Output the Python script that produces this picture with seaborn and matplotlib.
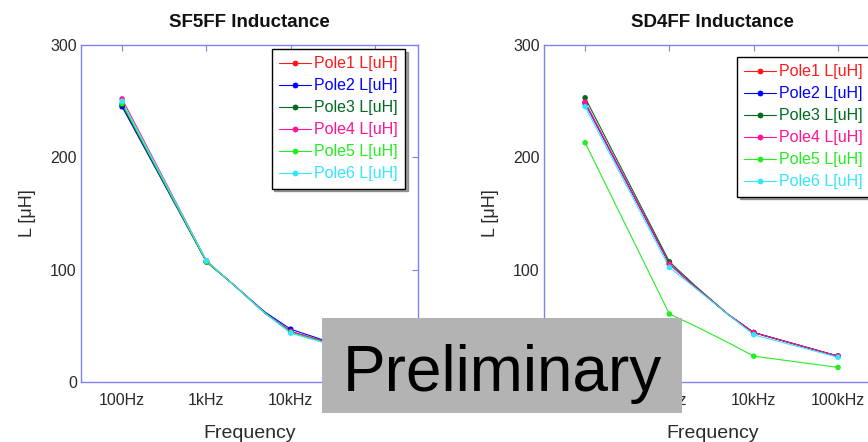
import matplotlib
matplotlib.use("Agg")
import matplotlib.pyplot as plt
from matplotlib.lines import Line2D
from matplotlib.patches import Rectangle
import seaborn as sns
import pandas as pd

# ---- data ----
freq_hz = [100, 1000, 2000, 5000, 10000, 100000]
decades = [100, 1000, 10000, 100000]
tick_labels = ["100Hz", "1kHz", "10kHz", "100kHz"]
poles = ["Pole1 L[uH]", "Pole2 L[uH]", "Pole3 L[uH]", "Pole4 L[uH]", "Pole5 L[uH]", "Pole6 L[uH]"]

sf5ff_p1 = [246, 107, 88, 61, 45, 22]
sf5ff_p2 = [245, 107, 88, 62, 47, 22]
sf5ff_p3 = [247, 107, 88, 61, 45, 22]
sf5ff_p4 = [252, 108, 88, 61, 45, 22]
sf5ff_p5 = [248, 107, 88, 61, 44, 22]
sf5ff_p6 = [250, 108, 88, 61, 43.5, 22]

sd4ff_p1 = [249, 105, 85, 60, 44, 23]
sd4ff_p2 = [248, 105, 85, 60, 44, 23]
sd4ff_p3 = [253, 107, 86, 60, 44, 23]
sd4ff_p4 = [249, 105, 85, 60, 44, 23]
sd4ff_p5 = [213, 60.5, 50, 35, 23, 13]
sd4ff_p6 = [245, 102, 84, 60, 42, 22]

colors = ["#ff1a1a", "#0000ff", "#006b1f", "#ff1493", "#22ee22", "#33e6ff"]

panels = [
    ("SF5FF Inductance", [sf5ff_p1, sf5ff_p2, sf5ff_p3, sf5ff_p4, sf5ff_p5, sf5ff_p6]),
    ("SD4FF Inductance", [sd4ff_p1, sd4ff_p2, sd4ff_p3, sd4ff_p4, sd4ff_p5, sd4ff_p6]),
]

sns.set_style("white")
plt.rcParams["font.family"] = ["Liberation Sans", "DejaVu Sans"]

fig = plt.figure(figsize=(8.68, 4.42), dpi=100)
W, H = 868, 442
spine_col = "#8080f0"
palette = dict(zip(poles, colors))

axes_px = [(81, 45, 337, 337), (544, 45, 337, 337)]
legend_anchor = [("upper right", (0.961, 0.988)), ("upper left", (0.573, 0.964))]

for i, ((title, series), (x0, y0, w, h)) in enumerate(zip(panels, axes_px)):
    ax = fig.add_axes([x0 / W, 1 - (y0 + h) / H, w / W, h / H])
    rows = []
    for pole, vals in zip(poles, series):
        for f, v in zip(freq_hz, vals):
            rows.append({"freq": f, "L": v, "pole": pole})
    df = pd.DataFrame(rows)
    dfm = df[df["freq"].isin(decades)]
    sns.lineplot(data=df, x="freq", y="L", hue="pole", palette=palette,
                 estimator=None, sort=True, linewidth=0.8, legend=False, ax=ax)
    sns.scatterplot(data=dfm, x="freq", y="L", hue="pole", palette=palette,
                    s=16, linewidth=0, legend=False, ax=ax, zorder=3)
    ax.set_xscale("log")
    ax.set_xlim(10 ** 1.512, 10 ** 5.51)
    ax.set_ylim(0, 300)
    ax.set_xticks(decades)
    ax.set_xticklabels(tick_labels)
    ax.minorticks_off()
    ax.set_yticks([0, 100, 200, 300])
    ax.tick_params(direction="in", top=True, right=True, length=4, width=0.8,
                   color=spine_col, labelsize=11.5, labelcolor="#2a2a2a")
    ax.tick_params(axis="x", pad=8)
    ax.tick_params(axis="y", pad=3)
    for s in ax.spines.values():
        s.set_color(spine_col)
        s.set_linewidth(1.0)
    ax.set_title(title, fontsize=13.5, fontweight="bold", pad=13, color="#111111")
    ax.set_xlabel("Frequency", fontsize=14, labelpad=12, color="#2a2a2a")
    ax.set_ylabel("L [\u03bcH]", fontsize=13, labelpad=10, color="#2a2a2a")

    handles = [Line2D([0], [0], color=c, lw=0.8, marker="o", markersize=4.2,
                      markeredgewidth=0) for c in colors]
    loc, anchor = legend_anchor[i]
    leg = ax.legend(handles, poles, loc=loc, bbox_to_anchor=anchor, borderaxespad=0,
                    fontsize=11.5, frameon=True, fancybox=False, shadow=True,
                    edgecolor="black", handlelength=2.0, handletextpad=0.2,
                    labelspacing=0.44, borderpad=0.45)
    leg.get_frame().set_linewidth(1.0)
    for t, c in zip(leg.get_texts(), colors):
        t.set_color(c)

fig.patches.append(Rectangle((322 / W, 29 / H), 360 / W, 95 / H, transform=fig.transFigure,
                             facecolor="#b3b3b3", edgecolor="none", zorder=10))
fig.text(343 / W, 51 / H, "Preliminary", fontsize=46, color="black",
         ha="left", va="baseline", zorder=11)

fig.savefig("out.png", dpi=100)
